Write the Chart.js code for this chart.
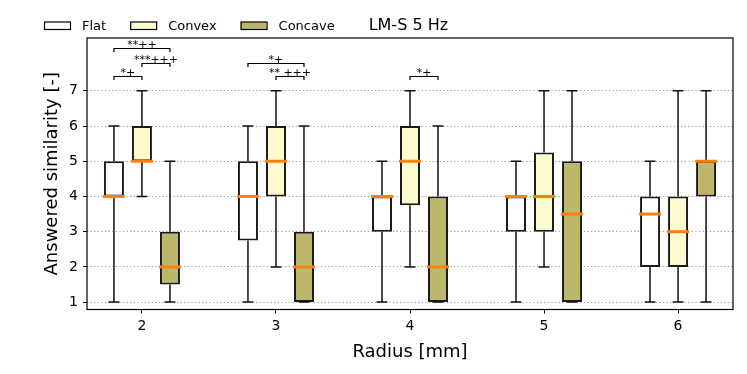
<!DOCTYPE html>
<html>
<head>
<meta charset="utf-8">
<script src="https://cdn.jsdelivr.net/npm/chart.js@4.4.0/dist/chart.umd.min.js"></script>
<style>
  html, body { margin: 0; padding: 0; background: #fff; }
  #wrap { width: 747px; height: 374px; }
</style>
</head>
<body>
<div id="wrap"><canvas id="myChart" width="747" height="374"></canvas></div>
<script>
'use strict';
// =============== data ===============
const radii = [2, 3, 4, 5, 6];
const yTicks = [1, 2, 3, 4, 5, 6, 7];

// whisker low / q1 / median / q3 / whisker high per radius
const flatLow = [1, 1, 1, 1, 1];
const flatQ1 = [4, 2.75, 3, 3, 2];
const flatMed = [4, 4, 4, 4, 3.5];
const flatQ3 = [5, 5, 4, 4, 4];
const flatHigh = [6, 6, 5, 5, 5];

const convexLow = [4, 2, 2, 2, 1];
const convexQ1 = [5, 4, 3.75, 3, 2];
const convexMed = [5, 5, 5, 4, 3];
const convexQ3 = [6, 6, 6, 5.25, 4];
const convexHigh = [7, 7, 7, 7, 7];

const concaveLow = [1, 1, 1, 1, 1];
const concaveQ1 = [1.5, 1, 1, 1, 4];
const concaveMed = [2, 2, 2, 3.5, 5];
const concaveQ3 = [3, 3, 4, 5, 5];
const concaveHigh = [5, 6, 6, 7, 7];

// significance brackets: radius, from series, to series, height, label
const sigRadius = [2, 2, 2, 3, 3, 4];
const sigFrom = [0, 1, 0, 0, 1, 1];
const sigTo = [2, 2, 1, 2, 2, 2];
const sigLevel = [8.22, 7.8, 7.42, 7.8, 7.42, 7.42];
const sigLabel = ['**++', '***+++', '*+', '*+', '** +++', '*+'];

const chartTitle = 'LM-S 5 Hz';
const FONT = "'DejaVu Sans', sans-serif";

const series = [
    {label: 'Flat', low: flatLow, q1: flatQ1, med: flatMed, q3: flatQ3, high: flatHigh, color: '#ffffff'},
    {label: 'Convex', low: convexLow, q1: convexQ1, med: convexMed, q3: convexQ3, high: convexHigh, color: '#fffacd'},
    {label: 'Concave', low: concaveLow, q1: concaveQ1, med: concaveMed, q3: concaveQ3, high: concaveHigh, color: '#bdb76b'}
];

// =============== plugin: whiskers, medians, frame, legend, brackets ===============
const boxParts = {
    id: 'boxParts',
    afterDatasetsDraw(chart) {
        const ctx = chart.ctx;
        const ys = chart.scales.y;
        ctx.save();
        series.forEach((s, di) => {
            const meta = chart.getDatasetMeta(di);
            meta.data.forEach((bar, i) => {
                const cx = bar.x;
                const w = bar.width;
                const pLow = ys.getPixelForValue(s.low[i]);
                const pQ1 = ys.getPixelForValue(s.q1[i]);
                const pQ3 = ys.getPixelForValue(s.q3[i]);
                const pHigh = ys.getPixelForValue(s.high[i]);
                const cap = w * 0.27;
                ctx.strokeStyle = '#111';
                ctx.lineWidth = 1.5;
                ctx.beginPath();
                ctx.moveTo(cx, pQ1); ctx.lineTo(cx, pLow);
                ctx.moveTo(cx, pQ3); ctx.lineTo(cx, pHigh);
                ctx.moveTo(cx - cap, pLow); ctx.lineTo(cx + cap, pLow);
                ctx.moveTo(cx - cap, pHigh); ctx.lineTo(cx + cap, pHigh);
                ctx.stroke();
                // median
                const pMed = ys.getPixelForValue(s.med[i]);
                ctx.strokeStyle = '#ff7f0e';
                ctx.lineWidth = 3;
                ctx.beginPath();
                ctx.moveTo(cx - w / 2 - 1, pMed);
                ctx.lineTo(cx + w / 2 + 1, pMed);
                ctx.stroke();
            });
        });
        ctx.restore();
    },
    afterDraw(chart) {
        const ctx = chart.ctx;
        const a = chart.chartArea;
        const ys = chart.scales.y;
        ctx.save();
        // frame
        ctx.strokeStyle = '#000';
        ctx.lineWidth = 1.2;
        ctx.strokeRect(a.left, a.top, a.right - a.left, a.bottom - a.top);

        // significance brackets
        ctx.lineWidth = 1.2;
        ctx.fillStyle = '#000';
        ctx.font = '11px ' + FONT;
        ctx.textAlign = 'center';
        ctx.textBaseline = 'alphabetic';
        sigRadius.forEach((r, k) => {
            const idx = radii.indexOf(r);
            const x1 = chart.getDatasetMeta(sigFrom[k]).data[idx].x;
            const x2 = chart.getDatasetMeta(sigTo[k]).data[idx].x;
            const py = Math.round(ys.getPixelForValue(sigLevel[k])) + 0.5;
            ctx.beginPath();
            ctx.moveTo(x1, py + 3.5);
            ctx.lineTo(x1, py);
            ctx.lineTo(x2, py);
            ctx.lineTo(x2, py + 3.5);
            ctx.stroke();
            ctx.fillText(sigLabel[k], (x1 + x2) / 2, py - 0.5);
        });

        // legend
        let x = 44;
        ctx.textAlign = 'left';
        ctx.font = '13px ' + FONT;
        series.forEach((s) => {
            ctx.fillStyle = s.color;
            ctx.fillRect(x, 22, 26, 7.5);
            ctx.strokeStyle = '#000';
            ctx.lineWidth = 1.2;
            ctx.strokeRect(x + 0.5, 22, 26, 7.5);
            ctx.fillStyle = '#000';
            ctx.fillText(s.label, x + 38, 30);
            x += 38 + ctx.measureText(s.label).width + 24;
        });
        ctx.font = '16px ' + FONT;
        ctx.fillText(chartTitle, x + 10, 30);
        ctx.restore();
    }
};

// =============== chart ===============
const myChart = document.getElementById('myChart').getContext('2d');

const BoxChart = new Chart(myChart, {
    type: 'bar',
    data: {
        datasets: series.map((s) => ({
            label: s.label,
            data: radii.map((r, i) => ({x: r, y: [s.q1[i], s.q3[i]]})),
            backgroundColor: s.color,
            borderColor: '#1a1a1a',
            borderWidth: 2,
            borderSkipped: false,
            categoryPercentage: 0.627,
            barPercentage: 0.714
        }))
    },
    options: {
        responsive: false,
        animation: false,
        devicePixelRatio: 1,
        layout: {padding: {top: 38, right: 14, left: 0, bottom: 0}},
        plugins: {
            legend: {display: false},
            tooltip: {enabled: false}
        },
        scales: {
            x: {
                type: 'linear',
                min: 1.59,
                max: 6.41,
                offset: false,
                afterBuildTicks: (scale) => { scale.ticks = radii.map((v) => ({value: v})); },
                afterFit: (scale) => { scale.height = 64.5; },
                grid: {offset: false, drawOnChartArea: false, drawTicks: true, tickLength: 4, color: '#000'},
                border: {display: false},
                ticks: {color: '#000', font: {family: FONT, size: 14}, padding: 4, maxRotation: 0},
                title: {display: true, text: 'Radius [mm]', color: '#000', font: {family: FONT, size: 18}, padding: {top: 0, bottom: 11}}
            },
            y: {
                min: 0.79,
                max: 8.5,
                afterBuildTicks: (scale) => { scale.ticks = yTicks.map((v) => ({value: v})); },
                afterFit: (scale) => { scale.width = 87; },
                grid: {color: 'rgba(0,0,0,0.4)', lineWidth: 1, tickLength: 4, tickColor: '#000', tickBorderDash: []},
                border: {display: false, dash: [1.2, 2.4]},
                ticks: {color: '#000', font: {family: FONT, size: 14}, padding: 5},
                title: {display: true, text: 'Answered similarity [-]', color: '#000', font: {family: FONT, size: 18}, padding: {top: 42, bottom: 0}}
            }
        }
    },
    plugins: [boxParts]
});
</script>
</body>
</html>
